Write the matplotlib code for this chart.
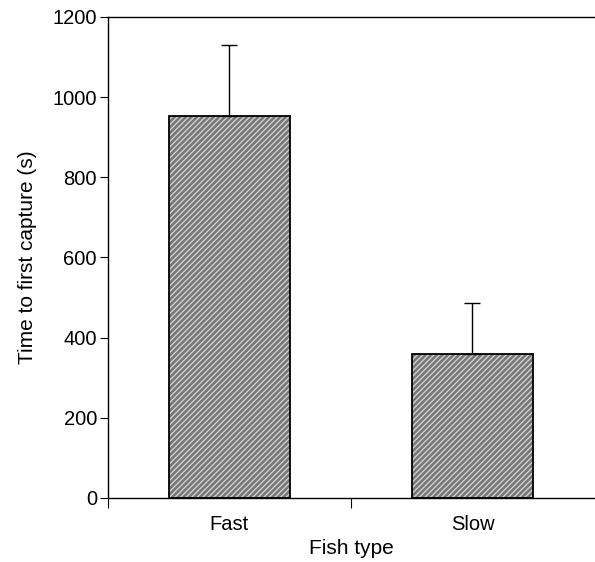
import matplotlib
matplotlib.use("Agg")
import matplotlib.pyplot as plt

# data
fish_types = ["Fast", "Slow"]
mean_time = [952, 360]
err_time = [178, 127]

plt.rcParams['font.family'] = ['Liberation Sans', 'DejaVu Sans']
plt.rcParams['hatch.linewidth'] = 1.0
plt.rcParams['hatch.color'] = '#d0d0d0'

fig = plt.figure(figsize=(5.95, 5.62), dpi=100)
ax = fig.add_axes([0.1815, 0.1139, 0.8168, 0.8559])

pos = list(range(len(fish_types)))

# hatched fill
ax.bar(pos, mean_time, width=0.5, color='#767676', hatch='//////',
       edgecolor='#d0d0d0', linewidth=0, zorder=2)
# outline + error bars (upper only)
ax.bar(pos, mean_time, width=0.5, fill=False, edgecolor='black',
       linewidth=1.3, zorder=3,
       yerr=[[0] * len(err_time), err_time],
       error_kw=dict(ecolor='black', elinewidth=1.0, capsize=6, capthick=1.0))

ax.set_xlim(-0.5, 1.5)
ax.set_ylim(0, 1200)
ax.set_yticks([0, 200, 400, 600, 800, 1000, 1200])
ax.set_xticks([-0.5, 0.5])
ax.set_xticklabels([])
ax.set_xticks(pos, minor=True)
ax.set_xticklabels(fish_types, minor=True)
ax.tick_params(axis='x', which='minor', length=0, pad=12, labelsize=14.5)
ax.tick_params(axis='x', which='major', length=7, width=0.8)
ax.tick_params(axis='y', length=6, width=0.8, labelsize=14.5, pad=2)

ax.set_xlabel("Fish type", fontsize=15, labelpad=4)
ax.set_ylabel("Time to first capture (s)", fontsize=15, labelpad=11)

ax.spines['right'].set_visible(False)
for s in ['top', 'left', 'bottom']:
    ax.spines[s].set_linewidth(1.0)

fig.savefig("out.png", dpi=100)
